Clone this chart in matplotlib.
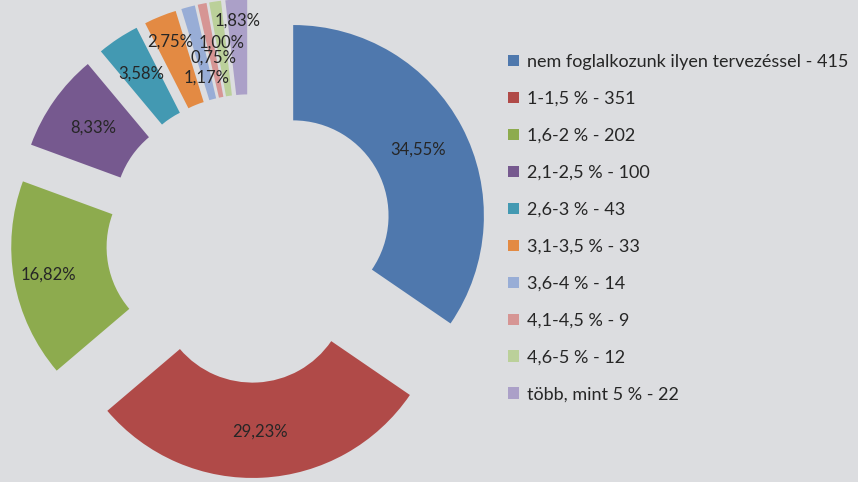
import numpy as np
import matplotlib
matplotlib.use("Agg")
import matplotlib.pyplot as plt

# adatok
categories = ["nem foglalkozunk ilyen tervezéssel", "1-1,5 %", "1,6-2 %", "2,1-2,5 %",
              "2,6-3 %", "3,1-3,5 %", "3,6-4 %", "4,1-4,5 %", "4,6-5 %", "több, mint 5 %"]
counts = [415, 351, 202, 100, 43, 33, 14, 9, 12, 22]
colors = ["#4F78AD", "#B04A48", "#8DAB4E", "#76598F", "#4399B2",
          "#E38A43", "#98ADD6", "#D69594", "#BBD09A", "#ABA0C8"]
label_dist = [0.74, 0.76, 0.82, 0.75, 0.78, 0.86, 0.62, 0.71, 0.78, 0.89]

plt.rcParams['font.family'] = ['Lato', 'DejaVu Sans']
bg = "#DCDDE0"

fig = plt.figure(figsize=(8.58, 4.82), dpi=100, facecolor=bg)
ax = fig.add_axes([0, 0, 1, 1])
ax.set_facecolor(bg)

R_PX = 190.7
cx, cy = 250.0, 238.5

wedges, _ = ax.pie(counts, colors=colors, startangle=90, counterclock=False,
                   radius=1.0, explode=[0.256] * len(counts),
                   wedgeprops=dict(width=0.5, linewidth=0))

total = sum(counts)
for w, n, d in zip(wedges, counts, label_dist):
    ang = np.deg2rad((w.theta1 + w.theta2) / 2)
    x0, y0 = w.center
    pct = "{:.2f}%".format(100 * n / total).replace(".", ",")
    ax.text(x0 + d * np.cos(ang), y0 + d * np.sin(ang), pct,
            ha="center", va="center", fontsize=12, color="#262626")

ax.set_xlim(-cx / R_PX, (858 - cx) / R_PX)
ax.set_ylim(-(482 - cy) / R_PX, cy / R_PX)
ax.set_aspect("auto")
ax.axis("off")

labels = ["{} - {}".format(c, n) for c, n in zip(categories, counts)]
fig.legend(wedges, labels, loc="upper left", bbox_to_anchor=(508 / 858, 1 - 54 / 482),
           frameon=False, fontsize=13, handlelength=0.6, handleheight=0.6,
           handletextpad=0.44, labelspacing=1.16, borderaxespad=0, borderpad=0,
           labelcolor="#262626")

fig.savefig("out.png", dpi=100, facecolor=bg)
